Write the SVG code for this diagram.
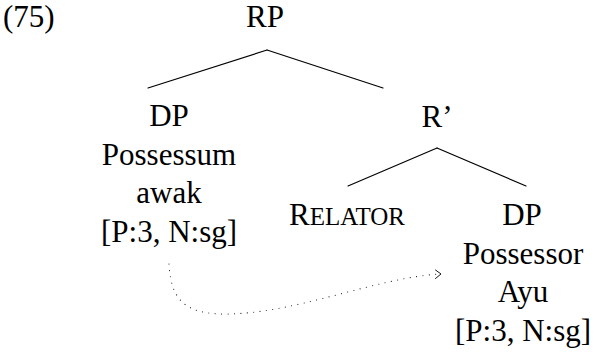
<svg xmlns="http://www.w3.org/2000/svg" width="595" height="352" viewBox="0 0 595 352">
  <!-- example number -->
  <text x="3" y="27" font-family="Times New Roman, Liberation Serif, DejaVu Serif, serif" font-size="31">(75)</text>

  <!-- tree branches -->
  <g id="connectors" fill="none" stroke="#000" stroke-linecap="round">
    <g stroke-width="1.2">
      <path d="M267,50 L148,88"/>
      <path d="M267,50 L383,88"/>
      <path d="M437,148 L348,186"/>
      <path d="M437,148 L526,186"/>
    </g>
    <!-- agreement link from possessum to possessor, with an open chevron tip -->
    <path d="M169,264 C171,300 185,314 225,314 C295,314 375,278 440,274" stroke-width="1.1" stroke-dasharray="0.01 6.4"/>
    <path d="M435.5,270 L441,274 L435.5,278.5" stroke-width="0.9" stroke-linejoin="round"/>
  </g>

  <g id="rp">
    <text x="265" y="27" font-family="Times New Roman, Liberation Serif, DejaVu Serif, serif" font-size="31" text-anchor="middle">RP</text>
  </g>

  <g id="dp-possessum">
    <text x="169" y="126" font-family="Times New Roman, Liberation Serif, DejaVu Serif, serif" font-size="31" text-anchor="middle">DP</text>
    <text x="169" y="164.5" font-family="Times New Roman, Liberation Serif, DejaVu Serif, serif" font-size="31" text-anchor="middle">Possessum</text>
    <text x="169" y="203" font-family="Times New Roman, Liberation Serif, DejaVu Serif, serif" font-size="31" text-anchor="middle">awak</text>
    <text x="169" y="241.5" font-family="Times New Roman, Liberation Serif, DejaVu Serif, serif" font-size="31" text-anchor="middle">[P:3, N:sg]</text>
  </g>

  <g id="r-bar">
    <text x="437" y="127" font-family="Times New Roman, Liberation Serif, DejaVu Serif, serif" font-size="31" text-anchor="middle">R&#8217;</text>
  </g>

  <g id="relator">
    <text x="347" y="225" font-family="Times New Roman, Liberation Serif, DejaVu Serif, serif" font-size="31" text-anchor="middle">R<tspan font-size="25">ELATOR</tspan></text>
  </g>

  <g id="dp-possessor">
    <text x="522" y="225" font-family="Times New Roman, Liberation Serif, DejaVu Serif, serif" font-size="31" text-anchor="middle">DP</text>
    <text x="523" y="263.5" font-family="Times New Roman, Liberation Serif, DejaVu Serif, serif" font-size="31" text-anchor="middle">Possessor</text>
    <text x="523" y="302" font-family="Times New Roman, Liberation Serif, DejaVu Serif, serif" font-size="31" text-anchor="middle">Ayu</text>
    <text x="523" y="340.5" font-family="Times New Roman, Liberation Serif, DejaVu Serif, serif" font-size="31" text-anchor="middle">[P:3, N:sg]</text>
  </g>
</svg>
